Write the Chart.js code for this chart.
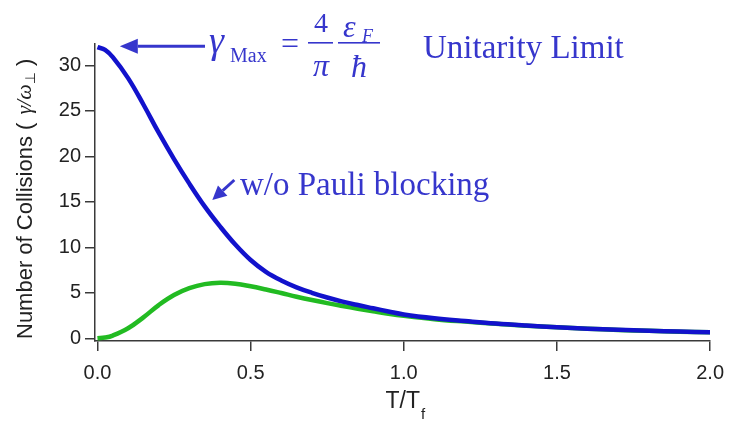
<!DOCTYPE html>
<html><head><meta charset="utf-8">
<script src="https://cdn.jsdelivr.net/npm/chart.js@4/dist/chart.umd.min.js"></script>
<style>html,body{margin:0;padding:0;background:#fff}#wrap{width:734px;height:421px;position:relative}</style>
</head><body><div id="wrap"><canvas id="c" width="734" height="421"></canvas></div>
<script>
// ---- data ----
const tValues      = [0,0.025,0.05,0.1,0.15,0.2,0.25,0.3,0.35,0.4,0.45,0.5,0.55,0.6,0.65,0.7,0.75,0.8,0.85,0.9,0.95,1.0,1.1,1.2,1.3,1.4,1.5,1.6,1.7,1.8,1.9,2.0];
const withoutPauli = [32.0,31.7,30.9,28.6,25.7,22.6,19.7,17.0,14.5,12.3,10.3,8.6,7.3,6.35,5.6,5.0,4.48,4.03,3.65,3.3,2.95,2.62,2.2,1.9,1.62,1.4,1.21,1.06,0.93,0.83,0.74,0.66];
const withPauli    = [0.0,0.08,0.3,1.1,2.3,3.65,4.75,5.5,5.95,6.1,6.0,5.72,5.36,4.97,4.57,4.2,3.86,3.55,3.25,2.97,2.7,2.47,2.1,1.83,1.59,1.38,1.2,1.05,0.92,0.82,0.73,0.65];
const xTicks = [0,0.5,1.0,1.5,2.0];
const yTicks = [0,5,10,15,20,25,30];
const yTitleMain = 'Number of Collisions (';
const yTitleUnit = 'γ/ω';
const yTitleSub = '⊥';
const yTitleEnd = ')';
const xTitleMain = 'T/T';
const xTitleSub = 'f';
const annotMax = {gamma:'γ', sub:'Max', num1:'4', den1:'π', num2:'ε', num2sub:'F', den2:'ħ', label:'Unitarity Limit'};
const annotPauli = 'w/o Pauli blocking';

const BLUE = '#1212cc', GREEN = '#22bb22', ANN = '#3636cc', AX = '#3a3a3a';

function arrow(ctx, x1, y1, x2, y2, headLen, headHalf, lw) {
  const a = Math.atan2(y2 - y1, x2 - x1);
  const bx = x2 - headLen * Math.cos(a), by = y2 - headLen * Math.sin(a);
  ctx.beginPath(); ctx.moveTo(x1, y1); ctx.lineTo(bx, by);
  ctx.lineWidth = lw; ctx.strokeStyle = ANN; ctx.stroke();
  ctx.beginPath(); ctx.moveTo(x2, y2);
  ctx.lineTo(bx + headHalf * Math.sin(a), by - headHalf * Math.cos(a));
  ctx.lineTo(bx - headHalf * Math.sin(a), by + headHalf * Math.cos(a));
  ctx.closePath(); ctx.fillStyle = ANN; ctx.fill();
}

const annotPlugin = {
  id: 'annot',
  afterDraw(chart) {
    const ctx = chart.ctx, xs = chart.scales.x, ys = chart.scales.y;
    ctx.save();
    // y title (rotated)
    ctx.save();
    ctx.translate(32, 339); ctx.rotate(-Math.PI / 2);
    ctx.fillStyle = '#222'; ctx.textBaseline = 'alphabetic'; ctx.textAlign = 'left';
    let px = 0;
    ctx.font = '22px "Liberation Sans", Arial, sans-serif';
    ctx.fillText(yTitleMain, px, 0); px += ctx.measureText(yTitleMain).width + 8;
    ctx.font = 'italic 22px "Liberation Serif", serif';
    ctx.fillText(yTitleUnit, px, -1); px += ctx.measureText(yTitleUnit).width;
    ctx.font = '14px "DejaVu Sans", sans-serif';
    ctx.fillText(yTitleSub, px, 3); px += ctx.measureText(yTitleSub).width + 6;
    ctx.font = '22px "Liberation Sans", Arial, sans-serif';
    ctx.fillText(yTitleEnd, px, 0);
    ctx.restore();
    // x title
    ctx.fillStyle = '#222'; ctx.textAlign = 'left'; ctx.textBaseline = 'alphabetic';
    ctx.font = '23px "Liberation Sans", Arial, sans-serif';
    const w1 = ctx.measureText(xTitleMain).width;
    ctx.font = '15px "Liberation Sans", Arial, sans-serif';
    const w2 = ctx.measureText(xTitleSub).width;
    const cx = xs.getPixelForValue(1.0) + 1, x0 = cx - (w1 + w2) / 2;
    ctx.font = '23px "Liberation Sans", Arial, sans-serif';
    ctx.fillText(xTitleMain, x0, 408);
    ctx.font = '15px "Liberation Sans", Arial, sans-serif';
    ctx.fillText(xTitleSub, x0 + w1 + 1, 419);

    // arrow to max
    const tipX = xs.getPixelForValue(0.073), tipY = ys.getPixelForValue(32.1);
    arrow(ctx, 205, tipY, tipX, tipY, 18, 7.5, 3);
    // formula
    ctx.fillStyle = ANN; ctx.textAlign = 'left'; ctx.textBaseline = 'alphabetic';
    ctx.font = 'italic 38px "Liberation Serif", serif';
    ctx.fillText(annotMax.gamma, 209, 53);
    ctx.font = '20px "Liberation Serif", serif';
    ctx.fillText(annotMax.sub, 230, 62);
    ctx.font = '32px "Liberation Serif", serif';
    ctx.fillText('=', 281, 54);
    ctx.textAlign = 'center';
    ctx.font = '28px "Liberation Serif", serif';
    ctx.fillText(annotMax.num1, 321, 32);
    ctx.font = 'italic 32px "Liberation Serif", serif';
    ctx.fillText(annotMax.den1, 321, 76);
    ctx.fillRect(308, 42, 25, 1.6);
    ctx.textAlign = 'left';
    ctx.font = 'italic 32px "Liberation Serif", serif';
    ctx.fillText(annotMax.num2, 343, 37);
    ctx.font = 'italic 18px "Liberation Serif", serif';
    ctx.fillText(annotMax.num2sub, 362, 42);
    ctx.font = 'italic 32px "Liberation Serif", serif';
    ctx.fillText(annotMax.den2, 351, 77);
    ctx.fillRect(338, 42, 42, 1.6);
    ctx.font = '33px "Liberation Serif", serif';
    ctx.fillText(annotMax.label, 423, 58);

    // w/o Pauli blocking
    const t2x = xs.getPixelForValue(0.375), t2y = ys.getPixelForValue(15.2);
    arrow(ctx, t2x + 22, t2y - 20, t2x, t2y, 14, 7, 3);
    ctx.font = '33px "Liberation Serif", serif';
    ctx.fillText(annotPauli, 240, 195);
    ctx.restore();
  }
};

const tickFont = {family: '"Liberation Sans", Arial, sans-serif', size: 20};
new Chart(document.getElementById('c'), {
  type: 'line',
  data: {
    datasets: [
      {label: 'w/o Pauli blocking', data: tValues.map((t, i) => ({x: t, y: withoutPauli[i]})),
       borderColor: BLUE, borderWidth: 4.5, pointRadius: 0, tension: 0.4, fill: false},
      {label: 'with Pauli blocking', data: tValues.map((t, i) => ({x: t, y: withPauli[i]})),
       borderColor: GREEN, borderWidth: 4.5, pointRadius: 0, tension: 0.4, fill: false}
    ]
  },
  options: {
    responsive: false, animation: false, devicePixelRatio: 1,
    layout: {padding: {left: 0, top: 44, right: 20, bottom: 0}},
    plugins: {legend: {display: false}, tooltip: {enabled: false}},
    scales: {
      x: {type: 'linear', min: -0.008, max: 2.0,
          afterBuildTicks: s => { s.ticks = xTicks.map(v => ({value: v})); },
          afterFit: s => { s.height = 80; },
          grid: {drawOnChartArea: false, drawTicks: true, tickLength: 10, color: AX, lineWidth: 1.5},
          border: {color: AX, width: 1.5},
          ticks: {font: tickFont, color: '#222', padding: 10, maxRotation: 0, callback: v => Number(v).toFixed(1)}},
      y: {type: 'linear', min: -0.3, max: 32.35,
          afterBuildTicks: s => { s.ticks = yTicks.map(v => ({value: v})); },
          afterFit: s => { s.width = 95; },
          grid: {drawOnChartArea: false, drawTicks: true, tickLength: 10, color: AX, lineWidth: 1.5},
          border: {color: AX, width: 1.5},
          ticks: {font: tickFont, color: '#222', padding: 4, callback: v => String(v)}}
    }
  },
  plugins: [annotPlugin]
});
</script></body></html>
